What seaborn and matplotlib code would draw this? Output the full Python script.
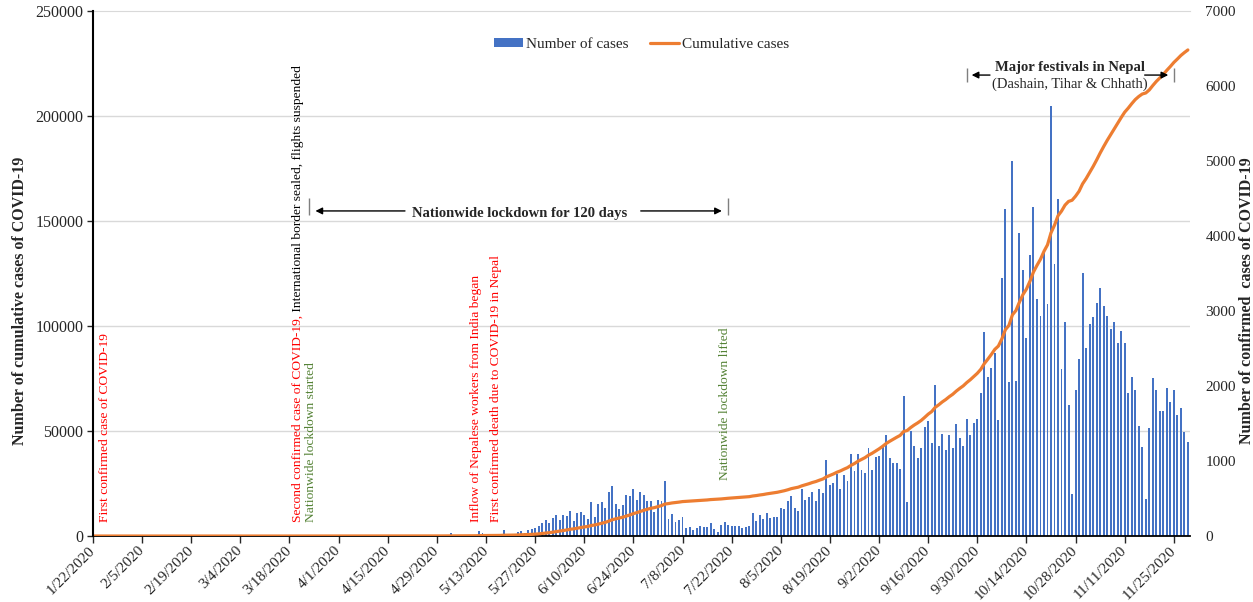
import numpy as np
import pandas as pd
import matplotlib
matplotlib.use("Agg")
import matplotlib.pyplot as plt
import seaborn as sns
from matplotlib.patches import Patch
from matplotlib.lines import Line2D

# Daily confirmed cases in Nepal, 22 Jan - 29 Nov 2020
cases_jan = [0, 1, 0, 0, 0, 0, 0, 0, 0, 0]
cases_feb = [0, 0, 0, 0, 0, 0, 0, 0, 0, 0, 0, 0, 0, 0, 0, 0, 0, 0, 0, 0,
             0, 0, 0, 0, 0, 0, 0, 0, 0]
cases_mar = [0, 0, 0, 0, 0, 0, 0, 0, 0, 0, 0, 0, 0, 0, 0, 0, 0, 0, 0, 0,
             0, 0, 1, 0, 1, 0, 2, 1, 0, 1, 0]
cases_apr = [1, 0, 2, 3, 0, 1, 0, 0, 2, 1, 0, 1, 0, 0, 2, 0, 14, 0, 1, 1,
             6, 0, 2, 0, 0, 1, 1, 1, 0, 5]
cases_may = [2, 3, 35, 2, 5, 3, 1, 10, 0, 11, 70, 35, 14, 10, 12, 8, 18, 82, 20, 25,
             30, 58, 62, 45, 80, 90, 107, 133, 178, 209, 178]
cases_jun = [244, 284, 213, 284, 271, 333, 204, 311, 320, 284, 222, 453, 249, 431, 453,
             373, 591, 667, 427, 356, 409, 542, 538, 622, 476, 587, 551, 462, 471, 320]
cases_jul = [480, 471, 738, 227, 293, 191, 213, 249, 107, 116, 80, 107, 133, 116, 116,
             178, 98, 58, 151, 182, 142, 133, 133, 133, 107, 124, 133, 311, 204, 276, 222]
cases_aug = [311, 244, 258, 258, 378, 356, 462, 538, 373, 333, 631, 480, 524, 587, 462,
             631, 573, 1013, 676, 707, 827, 631, 813, 738, 1093, 867, 1089, 876, 844, 1169, 880]
cases_sep = [1053, 1067, 1190, 1342, 1040, 969, 969, 898, 1867, 453, 1400, 1196, 1040, 1169, 1453,
             1538, 1236, 2013, 1200, 1365, 1147, 1353, 1169, 1493, 1309, 1202, 1566, 1349, 1507, 1556]
cases_oct = [1902, 2716, 2116, 2246, 2436, 1547, 3436, 4360, 2049, 5000, 2067, 4036, 3547, 2636, 3747,
             4382, 3156, 2933, 3769, 3089, 5733, 3630, 4493, 2222, 2849, 1742, 560, 1947, 2356, 3511, 2502]
cases_nov = [2822, 2924, 3111, 3302, 3067, 2938, 2756, 2849, 2569, 2733, 2569, 1911, 2116, 1947, 1471,
             1191, 493, 1436, 2102, 1947, 1667, 1667, 1978, 1791, 1947, 1613, 1702, 1382, 1258]

tick_labels = ["1/22/2020", "2/5/2020", "2/19/2020", "3/4/2020", "3/18/2020", "4/1/2020",
               "4/15/2020", "4/29/2020", "5/13/2020", "5/27/2020", "6/10/2020", "6/24/2020",
               "7/8/2020", "7/22/2020", "8/5/2020", "8/19/2020", "9/2/2020", "9/16/2020",
               "9/30/2020", "10/14/2020", "10/28/2020", "11/11/2020", "11/25/2020"]

# event days (days after 22 Jan 2020)
lockdown_start = 62     # 24 Mar
lockdown_end = 181      # 21 Jul
festival_start = 249
festival_end = 308

daily = np.array(cases_jan + cases_feb + cases_mar + cases_apr + cases_may + cases_jun
                 + cases_jul + cases_aug + cases_sep + cases_oct + cases_nov)
df = pd.DataFrame({"day": np.arange(len(daily)), "cases": daily})
df["cumulative"] = df["cases"].cumsum()

sns.set_style("white")
plt.rcParams["font.family"] = ["Liberation Serif", "DejaVu Serif"]

blue = "#4472C4"
orange = "#ED7D31"
red = "#FF0000"
green = "#548235"
fs = 9.7      # vertical notes
fs_bold = 10.5

fig = plt.figure(figsize=(12.53, 6.02), dpi=100)
ax = fig.add_axes([0.0742, 0.1096, 0.8755, 0.8721])
ax2 = ax.twinx()

# bars -> right axis (ax), cumulative line -> left axis (ax2)
sns.barplot(data=df, x="day", y="cases", ax=ax, color=blue, width=0.55,
            native_scale=True, errorbar=None, linewidth=0, saturation=1)
sns.lineplot(data=df, x="day", y="cumulative", ax=ax2, color=orange, linewidth=2.3)

ax.set_xlim(0, 312.6)
ax.set_ylim(0, 7000)
ax2.set_ylim(0, 250000)

ax.yaxis.tick_right()
ax.yaxis.set_label_position("right")
ax2.yaxis.tick_left()
ax2.yaxis.set_label_position("left")

ax.set_yticks(range(0, 7001, 1000))
ax.set_yticks([1400, 2800, 4200, 5600], minor=True)
ax.grid(axis="y", which="minor", color="#d9d9d9", linewidth=1)
ax.set_axisbelow(True)
ax.tick_params(axis="y", which="both", length=0, labelsize=11, pad=11)
ax2.set_yticks(range(0, 250001, 50000))
ax2.tick_params(axis="y", length=4, width=1, labelsize=11.5, pad=3)

ax.set_xticks(range(0, 313, 14))
ax.set_xticklabels(tick_labels, rotation=45, ha="right", va="center",
                   rotation_mode="anchor", fontsize=11)
ax.tick_params(axis="x", length=5, width=1, direction="out", pad=4, bottom=True)

for a in (ax, ax2):
    for s in a.spines.values():
        s.set_visible(False)
ax.spines["bottom"].set_visible(True)
ax.spines["bottom"].set_color("black")
ax.spines["bottom"].set_linewidth(1.3)
ax.spines["top"].set_visible(True)
ax.spines["top"].set_color("#d9d9d9")
ax2.spines["left"].set_visible(True)
ax2.spines["left"].set_color("black")
ax2.spines["left"].set_linewidth(1.5)

ax.set_xlabel("")
ax.set_ylabel("Number of confirmed  cases of COVID-19", fontsize=11.5, fontweight="bold")
ax2.set_ylabel("Number of cumulative cases of COVID-19", fontsize=11.5, fontweight="bold")
ax.yaxis.set_label_coords(1.0445, 0.448)
ax2.yaxis.set_label_coords(-0.059, 0.448)

# vertical event notes
ax2.text(3.3, 6700, "First confirmed case of COVID-19", rotation=90, color=red,
         ha="center", va="bottom", fontsize=fs)
t_red = ax2.text(58.3, 6700, "Second confirmed case of COVID-19,", rotation=90, color=red,
                 ha="center", va="bottom", fontsize=fs)
ax2.annotate(" International border sealed, flights suspended", xy=(0.5, 1), xycoords=t_red,
             rotation=90, color="black", ha="center", va="bottom", fontsize=fs)
ax2.text(62.0, 6700, "Nationwide lockdown started", rotation=90, color=green,
         ha="center", va="bottom", fontsize=fs)
ax2.text(109.2, 6700, "Inflow of Nepalese workers from India began", rotation=90, color=red,
         ha="center", va="bottom", fontsize=fs)
ax2.text(114.9, 6700, "First confirmed death due to COVID-19 in Nepal", rotation=90, color=red,
         ha="center", va="bottom", fontsize=fs)
ax2.text(180.0, 26700, "Nationwide lockdown lifted", rotation=90, color=green,
         ha="center", va="bottom", fontsize=fs)

# lockdown span
arrow = dict(arrowstyle="-|>", color="black", lw=1, mutation_scale=10)
y_lock = 154800
ax2.text((lockdown_start + lockdown_end) / 2, 153600, "Nationwide lockdown for 120 days",
         ha="center", va="center", fontsize=fs_bold, fontweight="bold")
ax2.annotate("", xy=(lockdown_start + 0.6, y_lock), xytext=(89.7, y_lock), arrowprops=arrow)
ax2.annotate("", xy=(lockdown_end - 1.0, y_lock), xytext=(155.3, y_lock), arrowprops=arrow)
ax2.vlines([lockdown_start - 0.4, lockdown_end], 152800, 161000, color="#7f7f7f", lw=1)

# festival span
y_fest = 219500
ax2.text((festival_start + festival_end) / 2, 223300, "Major festivals in Nepal",
         ha="center", va="center", fontsize=fs_bold, fontweight="bold")
ax2.text((festival_start + festival_end) / 2, 215300, "(Dashain, Tihar & Chhath)",
         ha="center", va="center", fontsize=fs_bold)
ax2.annotate("", xy=(festival_start + 0.6, y_fest), xytext=(256.4, y_fest), arrowprops=arrow)
ax2.annotate("", xy=(festival_end - 0.8, y_fest), xytext=(298.9, y_fest), arrowprops=arrow)
ax2.vlines([festival_start, festival_end], 216200, 222900, color="#7f7f7f", lw=1)

handles = [Patch(facecolor=blue, edgecolor="none"),
           Line2D([0], [0], color=orange, lw=2.3)]
ax2.legend(handles, ["Number of cases", "Cumulative cases"], loc="center",
           bbox_to_anchor=(0.5, 0.937), ncol=2, frameon=False, fontsize=11,
           handlelength=1.9, handleheight=0.5, columnspacing=1.45, handletextpad=0.2)

fig.savefig("out.png", dpi=100)
